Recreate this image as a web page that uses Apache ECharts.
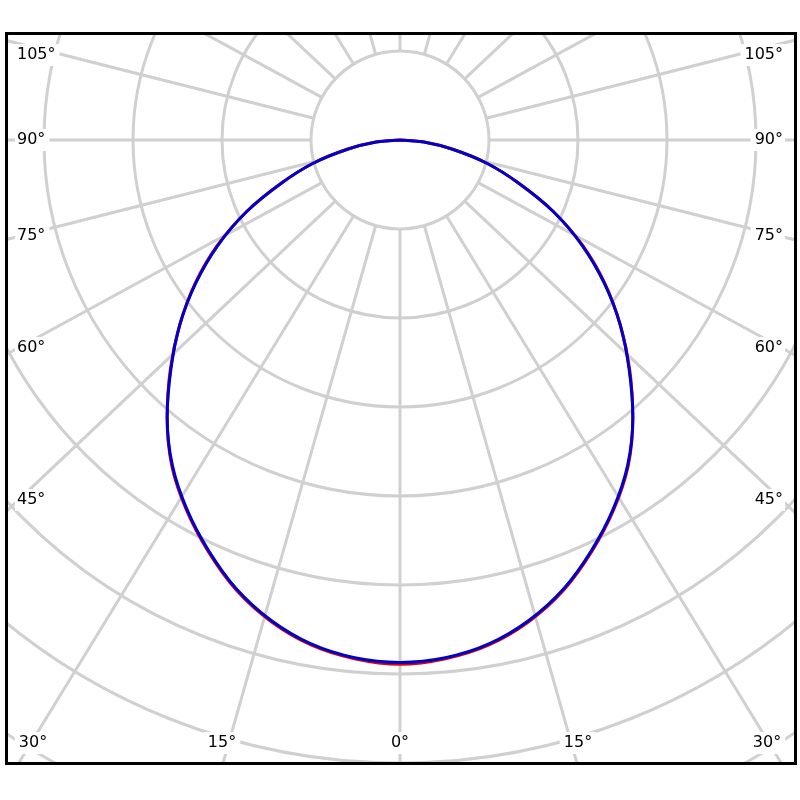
<!DOCTYPE html>
<html>
<head>
<meta charset="utf-8">
<script src="https://cdn.jsdelivr.net/npm/echarts@6/dist/echarts.min.js"></script>
<style>
html, body { margin: 0; padding: 0; background: #ffffff; }
#frame { position: absolute; left: 5px; top: 32px; width: 792px; height: 733px; box-sizing: border-box; border: 3px solid #000; overflow: hidden; background: #fff; }
#chart { position: absolute; left: -8px; top: -35px; width: 800px; height: 800px; }
</style>
</head>
<body>
<div id="frame"><div id="chart"></div></div>
<script>
// ---- data (angle from nadir in degrees, intensity in ring units x100) ----
const angles = [0, 5, 10, 15, 20, 25, 30, 35, 40, 45, 50, 55, 60, 65, 70, 75, 80, 85, 90];
const intensityBlue = [587, 584, 575, 559, 537, 509, 479, 446, 407, 364, 323, 280, 236, 190, 142, 101, 60, 27, 0];
const intensityRed  = [589, 585, 576, 560, 538, 510, 480, 447, 407, 365, 323, 281, 237, 190, 142, 101, 60, 27, 0];
const sideTickLabels = ['105°', '90°', '75°', '60°', '45°'];
const bottomTickLabels = ['30°', '15°', '0°', '15°', '30°'];

// ---- layout ----
const CX = 400, CY = 140, RING = 89, RINGS = 9;
const sideLabelY = [55, 140, 236, 348, 500];
const bottomLabelX = [33, 222, 400, 578, 767];
const bottomLabelY = 743;
const gridColor = '#d0d0d0';

// radial grid lines (drawn with the slight horizontal stretch seen in the reference)
const rayValues = [];
for (let a = -180; a <= 180; a += 15) {
  const t = a * Math.PI / 180;
  let phi = Math.atan2(Math.sin(t) * 1.06, Math.cos(t)) * 180 / Math.PI;
  if (a === 180) phi = 180;
  if (a === -180) phi = -180;
  rayValues.push(phi);
}

function buildCurve(values) {
  const pts = [];
  for (let i = angles.length - 1; i >= 0; i--) pts.push([values[i], angles[i]]);
  for (let i = 1; i < angles.length; i++) pts.push([values[i], -angles[i]]);
  return pts;
}

const font = '16px "DejaVu Sans", Verdana, sans-serif';
const labelGraphics = [];
sideTickLabels.forEach((t, i) => {
  labelGraphics.push({ type: 'text', x: 15, y: sideLabelY[i], z: 100,
    style: { text: t, fill: '#000', font: font, align: 'left', verticalAlign: 'middle', backgroundColor: '#fff', padding: [3, 4, 3, 2] } });
  labelGraphics.push({ type: 'text', x: 785, y: sideLabelY[i], z: 100,
    style: { text: t, fill: '#000', font: font, align: 'right', verticalAlign: 'middle', backgroundColor: '#fff', padding: [3, 2, 3, 4] } });
});
bottomTickLabels.forEach((t, i) => {
  labelGraphics.push({ type: 'text', x: bottomLabelX[i], y: bottomLabelY, z: 100,
    style: { text: t, fill: '#000', font: font, align: 'center', verticalAlign: 'middle', backgroundColor: '#fff', padding: [3, 4] } });
});

const chart = echarts.init(document.getElementById('chart'), null, { renderer: 'canvas' });
chart.setOption({
  animation: false,
  backgroundColor: '#fff',
  polar: [
    { center: [CX, CY], radius: [RING, RING * RINGS] },
    { center: [CX, CY], radius: [0, RING * RINGS] }
  ],
  angleAxis: [
    { polarIndex: 0, type: 'value', min: -180, max: 180, interval: 15, startAngle: 90, clockwise: true,
      axisLine: { show: false }, axisTick: { show: false, customValues: rayValues }, axisLabel: { show: false },
      splitLine: { show: true, lineStyle: { color: gridColor, width: 3 } } },
    { polarIndex: 1, type: 'value', min: -180, max: 180, startAngle: 90, clockwise: true, show: false }
  ],
  radiusAxis: [
    { polarIndex: 0, type: 'value', min: 0, max: RINGS - 1, interval: 1,
      axisLine: { show: false }, axisTick: { show: false }, axisLabel: { show: false },
      splitLine: { show: true, lineStyle: { color: gridColor, width: 3 } } },
    { polarIndex: 1, type: 'value', min: 0, max: RINGS * 100, show: false }
  ],
  series: [
    { name: 'C0-C180', type: 'line', coordinateSystem: 'polar', polarIndex: 1, data: buildCurve(intensityRed),
      smooth: 0.3, symbol: 'none', lineStyle: { color: '#e00000', width: 3 }, z: 3 },
    { name: 'C90-C270', type: 'line', coordinateSystem: 'polar', polarIndex: 1, data: buildCurve(intensityBlue),
      smooth: 0.3, symbol: 'none', lineStyle: { color: '#0000c8', width: 3 }, z: 4 }
  ],
  graphic: labelGraphics
});
</script>
</body>
</html>
